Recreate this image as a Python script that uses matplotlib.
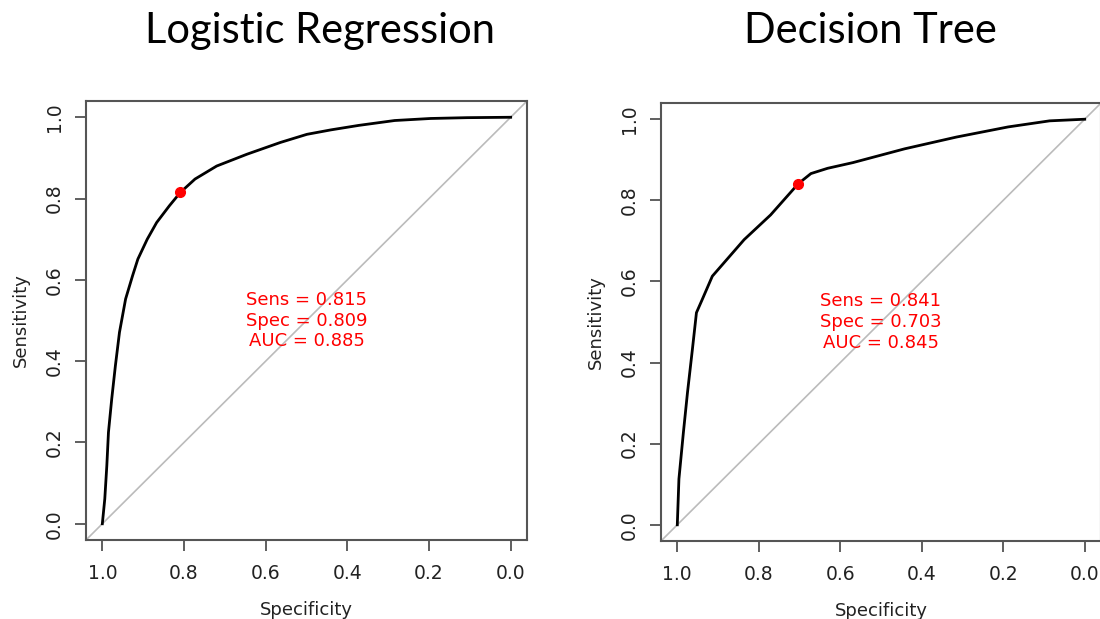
import numpy as np
import matplotlib.pyplot as plt

# ROC curves (specificity, sensitivity)
lr_spec = [1.0, 0.994, 0.989, 0.985, 0.977, 0.968, 0.958, 0.943, 0.926, 0.913, 0.890,
           0.867, 0.836, 0.809, 0.773, 0.720, 0.646, 0.564, 0.499, 0.440, 0.372,
           0.284, 0.196, 0.107, 0.0]
lr_sens = [0.0, 0.061, 0.143, 0.225, 0.307, 0.389, 0.471, 0.553, 0.610, 0.651, 0.700,
           0.741, 0.782, 0.815, 0.848, 0.880, 0.909, 0.938, 0.958, 0.969, 0.980,
           0.992, 0.997, 0.999, 1.0]

dt_spec = [1.0, 0.996, 0.985, 0.975, 0.963, 0.953, 0.939, 0.914, 0.836, 0.771, 0.703,
           0.672, 0.631, 0.569, 0.442, 0.315, 0.188, 0.086, 0.0]
dt_sens = [0.0, 0.113, 0.228, 0.326, 0.432, 0.523, 0.555, 0.613, 0.703, 0.764, 0.841,
           0.866, 0.879, 0.893, 0.927, 0.956, 0.981, 0.996, 1.0]

titles = ['Logistic Regression', 'Decision Tree']
best_spec = [0.809, 0.703]
best_sens = [0.815, 0.841]
aucs = [0.885, 0.845]
ticks = [1.0, 0.8, 0.6, 0.4, 0.2, 0.0]

fig = plt.figure(figsize=(11, 6.19), dpi=100)
positions = [[86/1100, 79/619, 441/1100, 439/619],
             [661/1100, 78/619, 440/1100, 438/619]]
title_x = [320/1100, 870/1100]
curves = [(lr_spec, lr_sens), (dt_spec, dt_sens)]

for i in range(2):
    ax = fig.add_axes(positions[i])
    spec, sens = curves[i]
    ax.set_xlim(1.04, -0.04)
    ax.set_ylim(-0.04, 1.04)
    ax.axline((1, 0), (0, 1), color='#bbbbbb', lw=1.2, zorder=1)
    ax.plot(spec, sens, color='black', lw=2, zorder=2)
    ax.plot(best_spec[i], best_sens[i], 'o', color='red', ms=7, zorder=3)
    label = 'Sens = %.3f\nSpec = %.3f\nAUC = %.3f' % (best_sens[i], best_spec[i], aucs[i])
    ax.text(0.5, 0.5, label, color='red', ha='center', va='center',
            fontsize=13, linespacing=1.2, family='DejaVu Sans')
    ax.set_xticks(ticks)
    ax.set_yticks(ticks)
    ax.set_xticklabels(['%.1f' % t for t in ticks])
    ax.set_yticklabels(['%.1f' % t for t in ticks], rotation=90, va='center')
    ax.tick_params(length=8, width=1.2, color='#444444', labelsize=13.5,
                   labelcolor='#222222')
    ax.tick_params(axis='x', pad=9)
    ax.tick_params(axis='y', pad=8)
    for s in ax.spines.values():
        s.set_color('#555555')
        s.set_linewidth(1.5)
    ax.set_xlabel('Specificity', fontsize=13, color='#222222', labelpad=13)
    ax.set_ylabel('Sensitivity', fontsize=13, color='#222222', labelpad=11)
    fig.text(title_x[i], 1 - 43/619, titles[i], ha='center', va='baseline',
             fontsize=30, family='Lato')

plt.savefig('out.png', dpi=100)
